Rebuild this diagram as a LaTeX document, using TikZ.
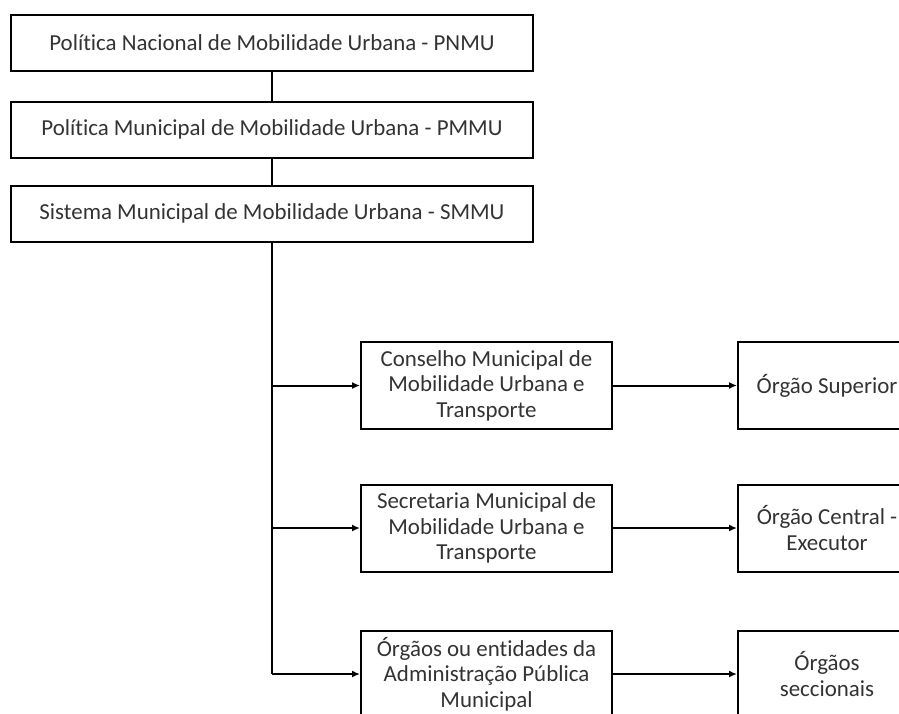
\documentclass[tikz,border=0pt]{standalone}
\usepackage{fontspec}
\setmainfont{Carlito}[Ligatures=NoCommon]
\usetikzlibrary{arrows.meta,positioning}
\definecolor{TextClr}{rgb}{0.2,0.2,0.2}

\begin{document}
\begin{tikzpicture}[x=1pt,y=-1pt,
  caixa/.style={draw,line width=2pt,fill=white,align=center,text=TextClr,
    font=\fontsize{22.9}{25.5}\selectfont,inner sep=0pt},
  topo/.style={caixa,minimum width=522pt,minimum height=56pt},
  orgao/.style={caixa,minimum width=251pt,minimum height=87pt},
  nivel/.style={caixa,minimum width=178pt,minimum height=87pt},
  liga/.style={line width=2pt},
  seta/.style={liga,-{Latex[length=8pt,width=7pt]}}]
\useasboundingbox (0,0) rectangle (899,713);
\clip (0,0) rectangle (899,713);

% Upper chain of plans
\node[topo] (pnmu) at (272,43) {Política Nacional de Mobilidade Urbana - PNMU};
\node[topo] (pmmu) at (272,129.5) {Política Municipal de Mobilidade Urbana - PMMU};
\node[topo] (smmu) at (272,213.5) {Sistema Municipal de Mobilidade Urbana - SMMU};

% Members of the system
\node[orgao] (cons) at (486.5,385.5) {Conselho Municipal de\\Mobilidade Urbana e\\Transporte};
\node[orgao] (secr) at (486.5,528) {Secretaria Municipal de\\Mobilidade Urbana e\\Transporte};
\node[orgao] (ent) at (486.5,674) {Órgãos ou entidades da\\Administração Pública\\Municipal};

% Their roles
\node[nivel, right=124pt of cons] (sup) {Órgão Superior};
\node[nivel, right=124pt of secr] (cent) {Órgão Central -\\Executor};
\node[nivel, right=124pt of ent] (secc) {Órgãos\\seccionais};

\draw[liga] (pnmu) -- (pmmu);
\draw[liga] (pmmu) -- (smmu);

% Trunk down to the last member
\coordinate (tronco) at (smmu.south |- ent.west);
\draw[liga] (smmu.south) -- (tronco);
\draw[seta] (smmu.south |- cons.west) -- (cons.west);
\draw[seta] (smmu.south |- secr.west) -- (secr.west);
\draw[seta] (tronco) -- (ent.west);

\draw[seta] (cons) -- (sup);
\draw[seta] (secr) -- (cent);
\draw[seta] (ent) -- (secc);
\end{tikzpicture}
\end{document}
